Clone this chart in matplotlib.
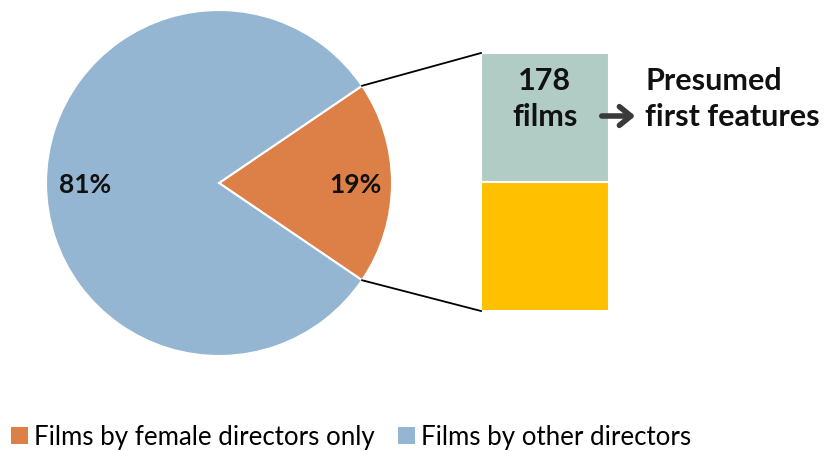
import math
import matplotlib
matplotlib.use("Agg")
import matplotlib.pyplot as plt
from matplotlib.patches import Patch, FancyArrowPatch

plt.rcParams['font.family'] = ['Lato', 'DejaVu Sans']

# Data
pie_labels = ["Films by female directors only", "Films by other directors"]
pie_values = [19, 81]
pie_colors = ["#dd8047", "#94b6d2"]

bar_segments = ["Presumed first features", "Other films by female directors"]
bar_values = [178, 178]
bar_colors = ["#b0ccc5", "#ffc000"]

W, H = 825, 451
fig = plt.figure(figsize=(W / 100, H / 100), dpi=100)
ax = fig.add_axes([0, 0, 1, 1])

# Pie
cx, cy, r = 219, H - 183, 173
start = -pie_values[0] / sum(pie_values) * 360 / 2
ax.pie(pie_values, colors=pie_colors, startangle=start, counterclock=True,
       center=(cx, cy), radius=r, frame=True,
       wedgeprops=dict(edgecolor='white', linewidth=1.5))
ax.set_xlim(0, W)
ax.set_ylim(0, H)
ax.set_aspect('equal')
ax.axis('off')

total = sum(pie_values)
ax.text(355, cy - 2, f"{pie_values[0] / total * 100:.0f}%", ha='center', va='center',
        fontsize=19, fontweight='bold', color='#111111')
ax.text(85, cy - 2, f"{pie_values[1] / total * 100:.0f}%", ha='center', va='center',
        fontsize=19, fontweight='bold', color='#111111')

# Stacked bar
bx, bw = 545, 128
btop, bbot = H - 53, H - 311
scale = (btop - bbot) / sum(bar_values)
bottom = btop
for v, c in zip(bar_values, bar_colors):
    h = v * scale
    bottom -= h
    ax.bar(bx, h, width=bw, bottom=bottom, color=c, edgecolor='white', linewidth=1.5)

ax.text(bx, H - 99, f"{bar_values[0]}\nfilms", ha='center', va='center', fontsize=22,
        fontweight='bold', color='#111111', linespacing=1.33)

# Connector lines
a = math.radians(-start)
ax.plot([cx + r * math.cos(a), bx - bw / 2], [cy + r * math.sin(a), btop], color='black', lw=1.3)
ax.plot([cx + r * math.cos(a), bx - bw / 2], [cy - r * math.sin(a), bbot], color='black', lw=1.3)

# Arrow and annotation
arr = FancyArrowPatch((599, H - 116), (638, H - 116),
                      arrowstyle="->,head_length=5.5,head_width=4.5", lw=4, color='#3a3a3a',
                      mutation_scale=1.5)
ax.add_patch(arr)
ax.text(645, H - 99, "Presumed\nfirst features", ha='left', va='center', fontsize=22,
        fontweight='bold', color='#111111', linespacing=1.33)

# Legend
handles = [Patch(facecolor=c, edgecolor='none') for c in pie_colors]
fig.legend(handles, pie_labels, loc='center left', bbox_to_anchor=(11 / W, 1 - 437 / H), ncol=2,
           frameon=False, fontsize=18.6, handlelength=0.64, handleheight=0.64,
           handletextpad=0.25, columnspacing=0.9, borderaxespad=0, borderpad=0)

fig.savefig("out.png", dpi=100, facecolor='white')
